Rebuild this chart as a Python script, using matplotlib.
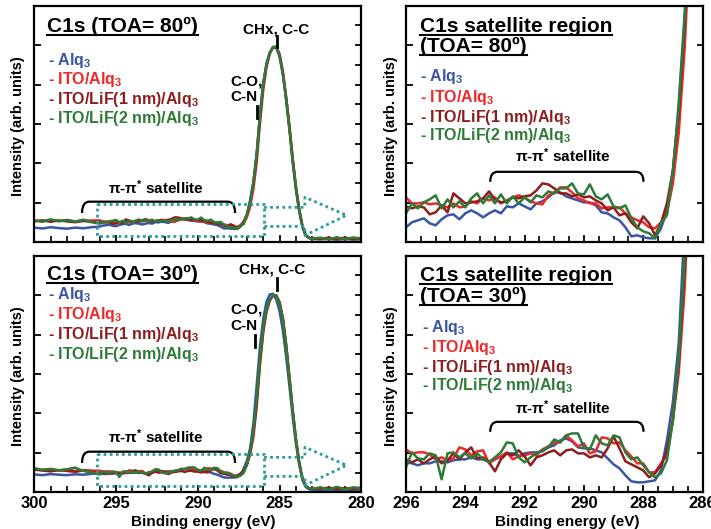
import numpy as np
import matplotlib
matplotlib.use('Agg')
import matplotlib.pyplot as plt
from matplotlib.lines import Line2D
from matplotlib.path import Path
from matplotlib.patches import PathPatch
from matplotlib.ticker import MultipleLocator

plt.rcParams['font.family'] = ['Liberation Sans', 'DejaVu Sans']
plt.rcParams['font.weight'] = 'bold'
plt.rcParams['axes.labelweight'] = 'bold'
plt.rcParams['mathtext.fontset'] = 'custom'
plt.rcParams['mathtext.rm'] = 'Liberation Sans:bold'
plt.rcParams['mathtext.it'] = 'Liberation Sans:bold'
plt.rcParams['mathtext.bf'] = 'Liberation Sans:bold'

# binding energy grid (eV)
energy = [300.0, 299.5, 299.0, 298.5, 298.0, 297.5, 297.0, 296.5,
          296.0, 295.8, 295.6, 295.4, 295.2, 295.0, 294.8, 294.6, 294.4, 294.2,
          294.0, 293.8, 293.6, 293.4, 293.2, 293.0, 292.8, 292.6, 292.4, 292.2,
          292.0, 291.8, 291.6, 291.4, 291.2, 291.0, 290.8, 290.6, 290.4, 290.2,
          290.0, 289.8, 289.6, 289.4, 289.2, 289.0, 288.8, 288.6, 288.4, 288.2,
          288.0, 287.8, 287.6, 287.4, 287.2, 287.0, 286.8, 286.6, 286.4, 286.2,
          286.0, 285.8, 285.6, 285.4, 285.2, 285.0, 284.8, 284.6, 284.4, 284.2,
          284.0, 283.8, 283.6, 283.4, 283.2, 283.0, 282.5, 282.0, 281.5, 281.0,
          280.5, 280.0]

# TOA = 80 deg
alq_80 = [10, 6, 12, 8, 5, 10, 7, 12,
          15, 20, 22, 24, 19, 17, 23, 27, 28, 23, 29, 32, 29, 25, 29, 32, 29, 36, 35, 39,
          36, 33, 39, 41, 45, 50, 50, 46, 44, 42, 40, 40, 37, 30, 29, 25, 22, 15, 6, 7,
          5, 4, 4, 14, 32, 69,
          140, 230, 365, 550, 700, 792, 846, 872, 868, 828, 742, 620, 480, 325, 192, 90,
          12, -28, -40, -44,
          -46, -44, -48, -45, -47, -46]
ito_80 = [44, 40, 46, 42, 45, 40, 43, 44,
          45, 39, 39, 40, 38, 39, 37, 35, 39, 35, 36, 41, 39, 44, 42, 45, 39, 42, 45, 47,
          45, 41, 39, 38, 47, 50, 55, 55, 50, 44, 42, 39, 39, 34, 35, 35, 35, 29, 25, 22,
          20, 15, 14, 20, 29, 59,
          110, 195, 320, 505, 665, 775, 840, 872, 875, 840, 758, 638, 500, 345, 208, 100,
          18, -24, -38, -43,
          -42, -38, -45, -40, -44, -39]
lif1_80 = [40, 45, 38, 44, 40, 36, 42, 38,
           36, 34, 36, 35, 28, 30, 37, 30, 49, 44, 39, 40, 41, 44, 51, 43, 40, 41, 45, 44,
           46, 47, 52, 59, 58, 54, 49, 49, 46, 48, 45, 46, 42, 39, 32, 35, 27, 29, 20, 14,
           26, 19, 7, 19, 39, 72,
           130, 218, 350, 535, 690, 788, 844, 872, 872, 834, 750, 630, 492, 338, 202, 96,
           16, -26, -39, -43,
           -44, -41, -43, -38, -45, -42]
lif2_80 = [45, 38, 50, 40, 47, 39, 48, 36,
           29, 39, 34, 40, 43, 47, 34, 43, 35, 41, 35, 44, 49, 39, 47, 39, 48, 39, 46, 39,
           45, 40, 47, 45, 51, 49, 54, 54, 59, 49, 48, 58, 46, 43, 48, 36, 34, 37, 24, 15,
           11, 9, 4, 19, 27, 72,
           135, 225, 360, 545, 695, 790, 845, 873, 872, 832, 748, 628, 490, 335, 200, 95,
           15, -25, -38, -42,
           -38, -46, -36, -45, -37, -42]

# TOA = 30 deg
alq_30 = [25, 22, 27, 24, 22, 26, 24, 28,
          30, 29, 27, 29, 29, 31, 31, 30, 32, 33, 33, 35, 33, 33, 31, 33, 36, 39, 39, 36,
          39, 40, 40, 41, 45, 47, 52, 54, 51, 45, 44, 44, 42, 40, 34, 28, 24, 17, 11, 10,
          10, 11, 12, 22, 52, 90,
          150, 270, 450, 635, 768, 850, 885, 888, 860, 805, 715, 590, 450, 305, 175, 75,
          0, -35, -45, -50,
          -50, -52, -49, -51, -50, -52]
ito_30 = [52, 46, 50, 44, 48, 42, 46, 44,
          43, 39, 40, 40, 38, 33, 35, 32, 34, 45, 43, 37, 41, 42, 29, 33, 36, 40, 33, 36,
          37, 39, 37, 43, 46, 50, 50, 57, 52, 46, 49, 39, 41, 55, 54, 49, 50, 42, 36, 29,
          29, 20, 20, 29, 37, 72,
          120, 205, 345, 545, 700, 800, 855, 878, 880, 850, 775, 650, 495, 338, 198, 85,
          5, -28, -40, -43,
          -40, -44, -38, -46, -40, -42]
lif1_30 = [48, 44, 40, 46, 42, 38, 44, 36,
           33, 30, 33, 29, 33, 36, 29, 32, 39, 33, 40, 45, 34, 35, 30, 21, 33, 39, 37, 42,
           36, 27, 35, 37, 40, 42, 37, 42, 43, 39, 39, 35, 37, 35, 44, 56, 44, 31, 28, 25,
           22, 15, 19, 27, 42, 72,
           130, 225, 365, 565, 715, 810, 860, 879, 879, 846, 770, 645, 490, 333, 193, 82,
           3, -29, -41, -44,
           -42, -38, -45, -40, -44, -38]
lif2_30 = [55, 48, 52, 45, 50, 58, 42, 35,
           25, 40, 34, 33, 39, 37, 13, 39, 40, 35, 39, 34, 39, 33, 30, 35, 40, 50, 49, 35,
           30, 35, 39, 42, 45, 53, 50, 57, 59, 59, 45, 43, 57, 49, 47, 57, 55, 40, 33, 35,
           27, 20, 15, 19, 32, 72,
           135, 235, 380, 580, 725, 815, 862, 880, 878, 845, 768, 640, 485, 330, 190, 80,
           2, -30, -40, -44,
           -36, -48, -34, -46, -36, -40]

labels = ['- Alq$_3$', '- ITO/Alq$_3$', '- ITO/LiF(1 nm)/Alq$_3$', '- ITO/LiF(2 nm)/Alq$_3$']
colors = ['#3a55a6', '#f02828', '#8e1e1e', '#2c7c38']
teal = '#2b9c9c'

full_ylim = (-60, 1070)
zoom_ylim = (0, 237)

fig = plt.figure(figsize=(7.11, 5.29), dpi=100)
ax_tl = fig.add_axes([0.04824, 0.54197, 0.45992, 0.44726])
ax_tr = fig.add_axes([0.57103, 0.54197, 0.41702, 0.44726])
ax_bl = fig.add_axes([0.04824, 0.06938, 0.45992, 0.44726])
ax_br = fig.add_axes([0.57103, 0.06938, 0.41702, 0.44726])


def right_ticks(ax, fracs):
    # ticks on the right spine, drawn by hand (they differ from the left ones)
    w = ax.get_position().width * 711
    for f in fracs:
        ax.plot([1, 1 - 5.0 / w], [f, f], color='k', lw=1.3,
                transform=ax.transAxes, clip_on=False)


def style_axes(ax, wide, show_labels):
    if wide:
        ax.set_xlim(300, 280)
        ax.set_ylim(*full_ylim)
        ax.xaxis.set_major_locator(MultipleLocator(5))
        ax.xaxis.set_minor_locator(MultipleLocator(1))
        right_ticks(ax, [i / 12 for i in range(1, 12)])
    else:
        ax.set_xlim(296, 286)
        ax.set_ylim(*zoom_ylim)
        ax.xaxis.set_major_locator(MultipleLocator(2))
        ax.xaxis.set_minor_locator(MultipleLocator(0.5))
        right_ticks(ax, [1 / 6, 3 / 6, 5 / 6])
    lo, hi = ax.get_ylim()
    ax.set_yticks(np.linspace(lo, hi, 7)[1:-1])
    for s in ax.spines.values():
        s.set_linewidth(1.6)
    ax.tick_params(axis='x', which='both', direction='in', top=False,
                   labelbottom=show_labels, labelsize=12, pad=3)
    ax.tick_params(axis='x', which='major', length=5, width=1.3)
    ax.tick_params(axis='x', which='minor', length=4, width=1.2)
    ax.tick_params(axis='y', direction='in', left=True, right=False,
                   labelleft=False, length=5, width=1.3)
    ax.set_ylabel('Intensity (arb. units)', fontsize=10.5)
    if show_labels:
        ax.set_xlabel('Binding energy (eV)', fontsize=11)


def draw_spectra(ax, series):
    for y, c in zip(series, colors):
        ax.plot(energy, y, color=c, lw=1.8, solid_joinstyle='round')


def bracket(ax, x0, x1, ytop, yend, r):
    s = np.sign(x1 - x0)
    verts = [(x0, yend), (x0, ytop), (x0 + s * r, ytop),
             (x1 - s * r, ytop), (x1, ytop), (x1, yend)]
    codes = [Path.MOVETO, Path.CURVE3, Path.CURVE3,
             Path.LINETO, Path.CURVE3, Path.CURVE3]
    ax.add_patch(PathPatch(Path(verts, codes), fill=False, lw=1.6, ec='black'))


def dotted_box_arrow(ax):
    kw = dict(color=teal, lw=2, ls=(0, (1, 1.2)), dash_capstyle='butt')
    ax.plot([296.18, 285.95, 285.95, 296.18, 296.18],
            [121, 121, -31, -31, 121], **kw)
    ax.plot([285.95, 283.45, 283.45, 280.9, 283.45, 283.45, 285.95],
            [107, 107, 155, 69, -27, 16, 16], **kw)


def legend_text(ax, x, ys):
    for lab, c, y in zip(labels, colors, ys):
        ax.text(x, y, lab, color=c, fontsize=11.5, transform=ax.transAxes,
                va='baseline', ha='left')


titles = []


def title(ax, txt, x, y):
    t = ax.text(x, y, txt, fontsize=15, transform=ax.transAxes,
                va='baseline', ha='left')
    titles.append(t)


sat_label = 'π-π$^{*}$ satellite'

# top left
style_axes(ax_tl, True, False)
draw_spectra(ax_tl, [alq_80, ito_80, lif1_80, lif2_80])
dotted_box_arrow(ax_tl)
bracket(ax_tl, 297.08, 287.72, 134, 80, 0.45)
ax_tl.text(292.57, 201, sat_label, ha='center', va='center', fontsize=11)
title(ax_tl, 'C1s (TOA= 80º)', 0.039, 0.890)
legend_text(ax_tl, 0.043, [0.749, 0.669, 0.585, 0.503])
ax_tl.text(285.23, 958, 'CHx, C-C', ha='center', va='center', fontsize=11)
ax_tl.plot([285.17, 285.17], [874, 925], color='k', lw=2)
ax_tl.text(288.03, 710, 'C-O,', ha='left', va='center', fontsize=11)
ax_tl.text(288.03, 632, 'C-N', ha='left', va='center', fontsize=11)
ax_tl.plot([286.4, 286.4], [533, 591], color='k', lw=2)

# bottom left
style_axes(ax_bl, True, True)
draw_spectra(ax_bl, [alq_30, ito_30, lif1_30, lif2_30])
dotted_box_arrow(ax_bl)
bracket(ax_bl, 297.08, 287.72, 134, 80, 0.45)
ax_bl.text(292.57, 206, sat_label, ha='center', va='center', fontsize=11)
title(ax_bl, 'C1s (TOA= 30º)', 0.039, 0.897)
legend_text(ax_bl, 0.043, [0.817, 0.733, 0.648, 0.563])
ax_bl.text(285.48, 1005, 'CHx, C-C', ha='center', va='center', fontsize=11)
ax_bl.plot([285.17, 285.17], [905, 962], color='k', lw=2)
ax_bl.text(288.03, 815, 'C-O,', ha='left', va='center', fontsize=11)
ax_bl.text(288.03, 735, 'C-N', ha='left', va='center', fontsize=11)
ax_bl.plot([286.5, 286.5], [635, 691], color='k', lw=2)

# top right
style_axes(ax_tr, False, False)
draw_spectra(ax_tr, [alq_80, ito_80, lif1_80, lif2_80])
bracket(ax_tr, 293.16, 287.99, 70.6, 60.6, 0.25)
ax_tr.text(290.7, 86.5, sat_label, ha='center', va='center', fontsize=11)
title(ax_tr, 'C1s satellite region', 0.047, 0.890)
title(ax_tr, '(TOA= 80º)', 0.047, 0.806)
legend_text(ax_tr, 0.047, [0.683, 0.594, 0.51, 0.432])

# bottom right
style_axes(ax_br, False, True)
draw_spectra(ax_br, [alq_30, ito_30, lif1_30, lif2_30])
bracket(ax_br, 293.16, 287.99, 70.6, 60.6, 0.25)
ax_br.text(290.7, 84.8, sat_label, ha='center', va='center', fontsize=11)
title(ax_br, 'C1s satellite region', 0.047, 0.893)
title(ax_br, '(TOA= 30º)', 0.047, 0.806)
legend_text(ax_br, 0.053, [0.679, 0.594, 0.51, 0.432])

for ax in (ax_tl, ax_bl):
    ax.yaxis.set_label_coords(-0.028, 0.49)
for ax in (ax_tr, ax_br):
    ax.yaxis.set_label_coords(-0.026, 0.492)
ax_bl.xaxis.set_label_coords(0.517, -0.096)
ax_br.xaxis.set_label_coords(0.543, -0.096)

# underline the panel titles
fig.canvas.draw()
renderer = fig.canvas.get_renderer()
inv = fig.transFigure.inverted()
for t in titles:
    bb = t.get_window_extent(renderer)
    xb, yb = t.get_transform().transform(t.get_position())
    p0 = inv.transform((bb.x0, yb - 3))
    p1 = inv.transform((bb.x1, yb - 3))
    fig.add_artist(Line2D([p0[0], p1[0]], [p0[1], p1[1]], color='k', lw=1.5,
                          transform=fig.transFigure))

plt.savefig('out.png', dpi=100)
